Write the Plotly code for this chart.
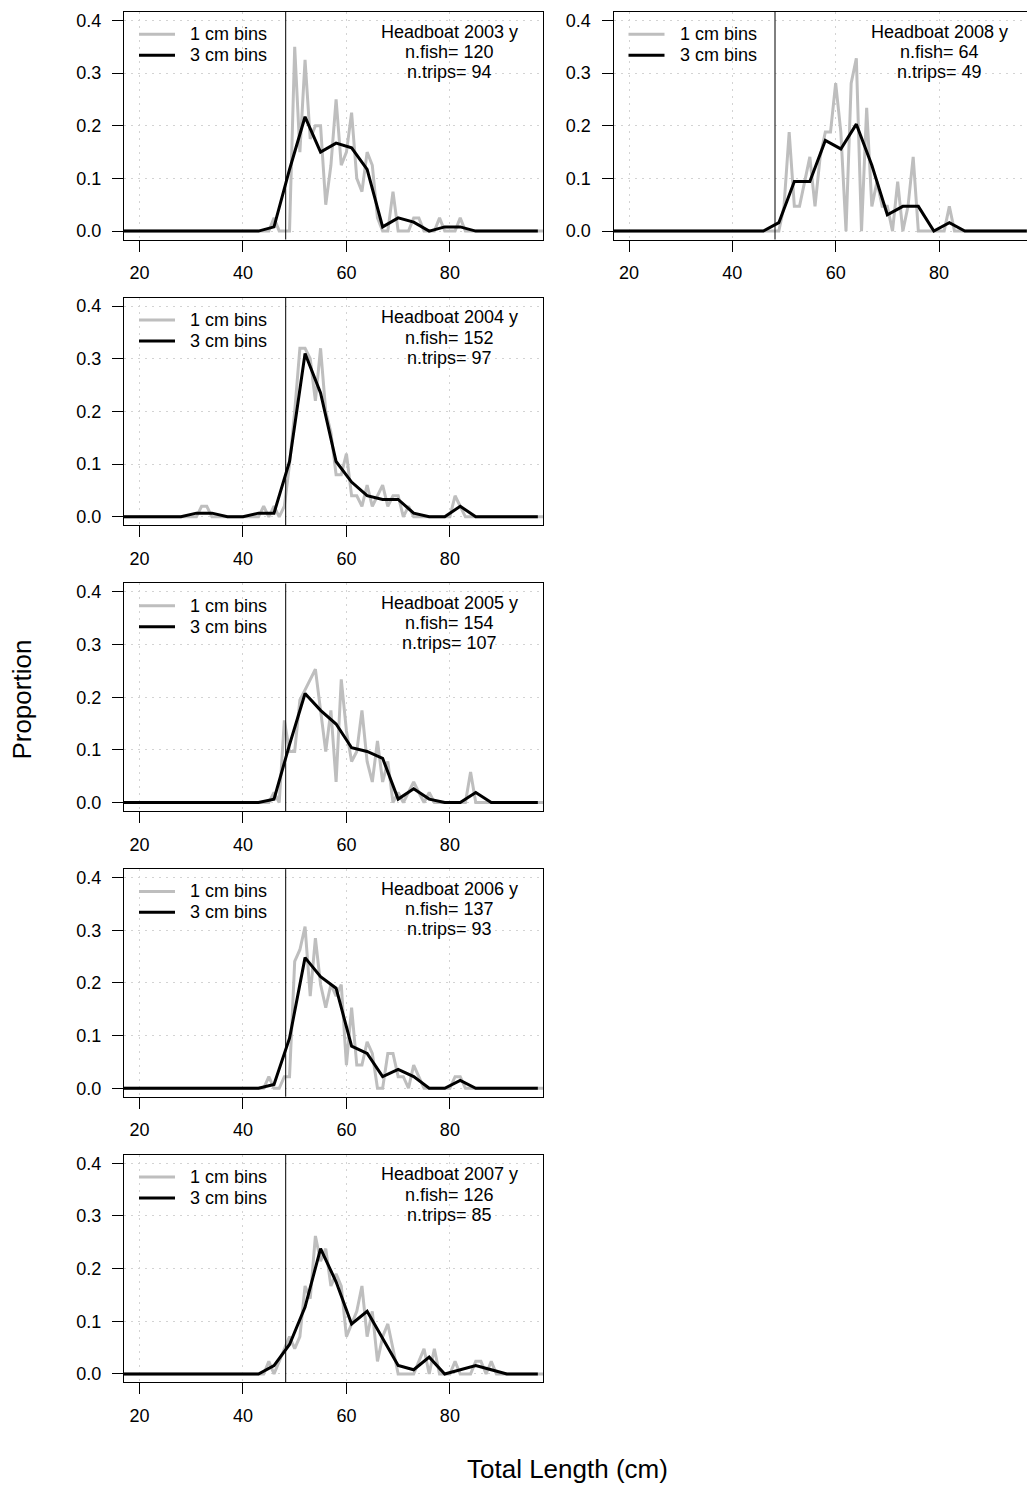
import plotly.graph_objects as go

W, H = 1027, 1487

# length bins (cm)
len_1cm = list(range(16, 99))
len_3cm = list(range(16, 98, 3))

years = ["2003", "2004", "2005", "2006", "2007", "2008"]
n_fish = [120, 152, 154, 137, 126, 64]
n_trips = [94, 97, 107, 93, 85, 49]

# 1 cm bins, 16..98 cm (rows of ten)
g03 = [0, 0, 0, 0, 0, 0, 0, 0, 0, 0,
       0, 0, 0, 0, 0, 0, 0, 0, 0, 0,
       0, 0, 0, 0, 0, 0, 0, 0, 0, 0,
       0.025, 0, 0, 0, 0.35, 0.15, 0.325, 0.175, 0.2, 0.2,
       0.05, 0.125, 0.25, 0.125, 0.15, 0.225, 0.1, 0.075, 0.15, 0.125,
       0.025, 0, 0, 0.075, 0, 0, 0, 0.025, 0.025, 0,
       0, 0, 0.025, 0, 0, 0, 0.025, 0, 0, 0,
       0, 0, 0, 0, 0, 0, 0, 0, 0, 0,
       0, 0, 0]
g04 = [0, 0, 0, 0, 0, 0, 0, 0, 0, 0,
       0, 0, 0, 0, 0, 0, 0.02, 0.02, 0, 0,
       0, 0, 0, 0, 0, 0, 0, 0, 0.02, 0,
       0.02, 0, 0.02, 0.1, 0.2, 0.32, 0.32, 0.3, 0.22, 0.32,
       0.2, 0.16, 0.08, 0.08, 0.12, 0.04, 0.04, 0.02, 0.06, 0.02,
       0.04, 0.06, 0.02, 0.04, 0.04, 0, 0.02, 0, 0, 0,
       0, 0, 0, 0, 0, 0.04, 0.02, 0, 0, 0,
       0, 0, 0, 0, 0, 0, 0, 0, 0, 0,
       0, 0, 0]
g05 = [0, 0, 0, 0, 0, 0, 0, 0, 0, 0,
       0, 0, 0, 0, 0, 0, 0, 0, 0, 0,
       0, 0, 0, 0, 0, 0, 0, 0, 0, 0,
       0.019, 0, 0.156, 0.097, 0.097, 0.195, 0.214, 0.234, 0.253, 0.175,
       0.097, 0.175, 0.039, 0.234, 0.136, 0.078, 0.097, 0.175, 0.078, 0.039,
       0.117, 0.039, 0.078, 0, 0.019, 0, 0.019, 0.039, 0.019, 0,
       0.019, 0, 0, 0, 0, 0, 0, 0, 0.058, 0,
       0, 0, 0, 0, 0, 0, 0, 0, 0, 0,
       0, 0, 0]
g06 = [0, 0, 0, 0, 0, 0, 0, 0, 0, 0,
       0, 0, 0, 0, 0, 0, 0, 0, 0, 0,
       0, 0, 0, 0, 0, 0, 0, 0, 0, 0.022,
       0, 0, 0.022, 0.022, 0.241, 0.263, 0.307, 0.175, 0.285, 0.197,
       0.153, 0.197, 0.175, 0.197, 0.044, 0.153, 0.044, 0.044, 0.088, 0.066,
       0, 0, 0.066, 0.066, 0.022, 0.022, 0, 0.044, 0.022, 0,
       0, 0, 0, 0, 0, 0.022, 0.022, 0, 0, 0,
       0, 0, 0, 0, 0, 0, 0, 0, 0, 0,
       0, 0, 0]
g07 = [0, 0, 0, 0, 0, 0, 0, 0, 0, 0,
       0, 0, 0, 0, 0, 0, 0, 0, 0, 0,
       0, 0, 0, 0, 0, 0, 0, 0, 0, 0.024,
       0, 0.024, 0.048, 0.071, 0.048, 0.071, 0.167, 0.143, 0.262, 0.214,
       0.238, 0.167, 0.19, 0.167, 0.071, 0.095, 0.119, 0.167, 0.071, 0.119,
       0.024, 0.071, 0.095, 0.048, 0, 0, 0, 0, 0.024, 0.048,
       0, 0.048, 0, 0, 0, 0.024, 0, 0, 0, 0.024,
       0.024, 0, 0.024, 0, 0, 0, 0, 0, 0, 0,
       0, 0, 0]
g08 = [0, 0, 0, 0, 0, 0, 0, 0, 0, 0,
       0, 0, 0, 0, 0, 0, 0, 0, 0, 0,
       0, 0, 0, 0, 0, 0, 0, 0, 0, 0,
       0, 0, 0, 0, 0.047, 0.188, 0.047, 0.047, 0.094, 0.141,
       0.047, 0.141, 0.188, 0.188, 0.281, 0.188, 0, 0.281, 0.328, 0,
       0.234, 0.047, 0.094, 0.047, 0.047, 0, 0.094, 0, 0.047, 0.141,
       0, 0, 0, 0, 0, 0, 0.047, 0, 0, 0,
       0, 0, 0, 0, 0, 0, 0, 0, 0, 0,
       0, 0, 0]

# 3 cm bins, centres 16..97
b03 = [0, 0, 0, 0, 0, 0, 0, 0, 0,
       0, 0.008, 0.117, 0.217, 0.15, 0.167, 0.158, 0.117, 0.008, 0.025,
       0.017, 0, 0.008, 0.008, 0, 0, 0, 0, 0]
b04 = [0, 0, 0, 0, 0, 0.007, 0.007, 0, 0,
       0.007, 0.007, 0.105, 0.31, 0.235, 0.105, 0.066, 0.04, 0.033, 0.033,
       0.007, 0, 0, 0.02, 0, 0, 0, 0, 0]
b05 = [0, 0, 0, 0, 0, 0, 0, 0, 0,
       0, 0.0065, 0.11, 0.207, 0.175, 0.149, 0.104, 0.097, 0.084, 0.0065,
       0.026, 0.0065, 0, 0, 0.019, 0, 0, 0, 0]
b06 = [0, 0, 0, 0, 0, 0, 0, 0, 0,
       0, 0.0073, 0.095, 0.248, 0.212, 0.19, 0.08, 0.066, 0.022, 0.036,
       0.022, 0, 0, 0.015, 0, 0, 0, 0, 0]
b07 = [0, 0, 0, 0, 0, 0, 0, 0, 0,
       0, 0.016, 0.056, 0.127, 0.238, 0.175, 0.095, 0.119, 0.067, 0.016,
       0.008, 0.032, 0, 0.008, 0.016, 0.008, 0, 0, 0]
b08 = [0, 0, 0, 0, 0, 0, 0, 0, 0,
       0, 0, 0.016, 0.094, 0.094, 0.172, 0.156, 0.203, 0.125, 0.031,
       0.047, 0.047, 0, 0.016, 0, 0, 0, 0, 0]

gray_series = [g03, g04, g05, g06, g07, g08]
black_series = [b03, b04, b05, b06, b07, b08]

size_limit = 48.26  # 19 inches

FONT = "Liberation Sans, Arial, Helvetica, sans-serif"
GREY = "#bebebe"

# panel boxes in pixels: left, right, top, x upper limit
panel_h = 228
panels = [
    (124, 543, 11.0, 98),
    (124, 543, 297.3, 98),
    (124, 543, 583.6, 98),
    (124, 543, 869.9, 98),
    (124, 543, 1156.2, 98),
    (613.5, 1027, 11.0, 97.03),
]

fig = go.Figure()
layout = dict(
    width=W, height=H,
    margin=dict(l=0, r=0, t=0, b=0),
    paper_bgcolor="white", plot_bgcolor="white",
    font=dict(family=FONT, size=18, color="black"),
    showlegend=False,
    shapes=[], annotations=[],
)

for i, year in enumerate(years):
    k = "" if i == 0 else str(i + 1)
    left, right, top, xhi = panels[i]
    bottom = top + panel_h
    pw = right - left
    xd = "x" + k + " domain"
    yd = "y" + k + " domain"

    fig.add_trace(go.Scatter(
        x=len_1cm, y=gray_series[i], mode="lines", name="1 cm bins",
        line=dict(color=GREY, width=3), xaxis="x" + k, yaxis="y" + k,
    ))
    fig.add_trace(go.Scatter(
        x=len_3cm, y=black_series[i], mode="lines", name="3 cm bins",
        line=dict(color="black", width=3), xaxis="x" + k, yaxis="y" + k,
    ))

    layout["xaxis" + k] = dict(
        domain=[left / W, right / W], range=[17, xhi], anchor="y" + k,
        tickvals=[20, 40, 60, 80], ticks="outside", ticklen=11, tickwidth=1,
        tickcolor="black", ticklabelstandoff=6,
        showline=True, linecolor="black", linewidth=1, mirror=True,
        showgrid=True, gridcolor="#d3d3d3", griddash="2px,5px", gridwidth=1,
        zeroline=False, tickfont=dict(size=18),
    )
    layout["yaxis" + k] = dict(
        domain=[1 - bottom / H, 1 - top / H], range=[-0.016, 0.416],
        anchor="x" + k,
        tickvals=[0, 0.1, 0.2, 0.3, 0.4], tickformat=".1f",
        ticks="outside", ticklen=11, tickwidth=1, tickcolor="black",
        ticklabelstandoff=7,
        showline=True, linecolor="black", linewidth=1, mirror=(i != 5),
        showgrid=True, gridcolor="#d3d3d3", griddash="2px,5px", gridwidth=1,
        zeroline=False, tickfont=dict(size=18),
    )

    # size limit line
    layout["shapes"].append(dict(
        type="line", xref="x" + k, yref=yd,
        x0=size_limit, x1=size_limit, y0=0, y1=1,
        line=dict(color="black", width=1),
    ))

    # legend keys drawn inside the panel
    for j, (name, col) in enumerate([("1 cm bins", GREY), ("3 cm bins", "black")]):
        yy = 1 - (22.3 + 21 * j) / panel_h
        layout["shapes"].append(dict(
            type="line", xref=xd, yref=yd,
            x0=15 / pw, x1=51 / pw, y0=yy, y1=yy,
            line=dict(color=col, width=3),
        ))
        layout["annotations"].append(dict(
            text=name, xref=xd, yref=yd, x=64 / pw, y=yy,
            xanchor="left", yanchor="middle", showarrow=False,
            font=dict(size=18),
        ))

    labels = ["Headboat " + year + " y",
              "n.fish= " + str(n_fish[i]),
              "n.trips= " + str(n_trips[i])]
    for j, txt in enumerate(labels):
        layout["annotations"].append(dict(
            text=txt, xref="x" + k, yref=yd,
            x=80, y=0.914 - 0.089 * j, xanchor="center", yanchor="middle",
            showarrow=False, font=dict(size=18),
        ))

layout["annotations"].append(dict(
    text="Proportion", xref="paper", yref="paper",
    x=22 / W, y=1 - 700 / H, textangle=-90, showarrow=False,
    xanchor="center", yanchor="middle", font=dict(size=26),
))
layout["annotations"].append(dict(
    text="Total Length (cm)", xref="paper", yref="paper",
    x=567 / W, y=1 - 1471 / H, showarrow=False,
    xanchor="center", yanchor="middle", font=dict(size=26),
))

fig.update_layout(**layout)
fig.write_html("out.html", config={"displayModeBar": False},
               post_script="document.body.style.margin='0';"
                           "document.body.style.overflow='hidden';")
